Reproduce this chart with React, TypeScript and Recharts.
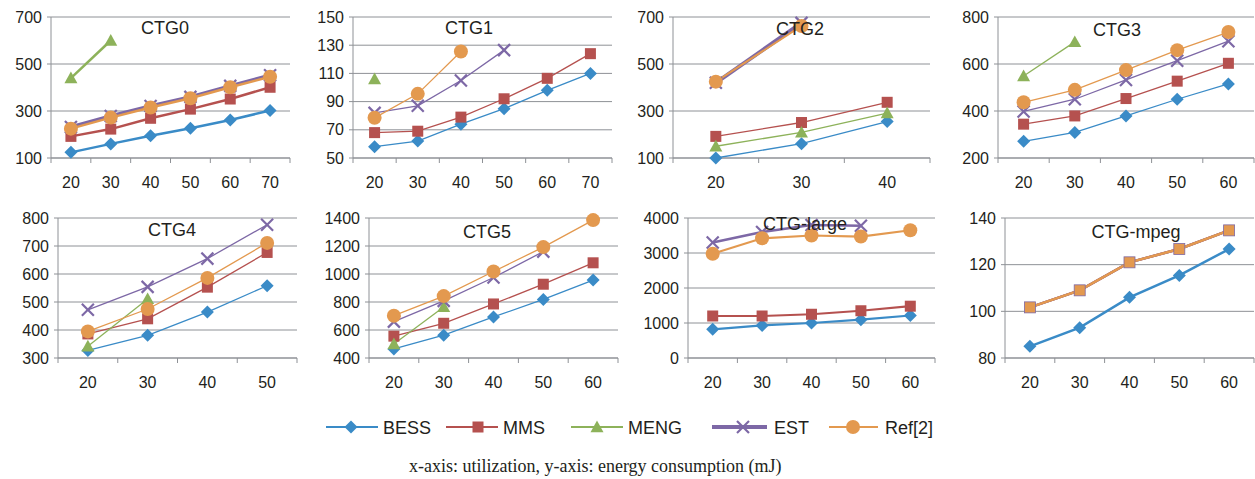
import React from 'react';
import { LineChart, Line, XAxis, YAxis, CartesianGrid } from 'recharts';

const SERIES_NAMES = ['BESS', 'MMS', 'MENG', 'EST', 'Ref[2]'];
const SERIES_KEYS = ['bess', 'mms', 'meng', 'est', 'ref'];
const COLORS = ['#3A8BC7', '#B5514F', '#8DB25A', '#7D68A6', '#E3994F'];
const SHAPES = ['diamond', 'square', 'triangle', 'cross', 'circle'];
const GRID = '#8E9196';
const TEXT = '#231F20';

// CTG0
const ctg0X = [20, 30, 40, 50, 60, 70];
const ctg0Bess = [124, 160, 195, 227, 262, 302];
const ctg0Mms = [192, 223, 269, 308, 351, 401];
const ctg0Meng = [440, 600, null, null, null, null];
const ctg0Est = [232, 279, 321, 360, 407, 452];
const ctg0Ref = [225, 272, 315, 354, 401, 446];
const ctg0Ticks = [100, 300, 500, 700];

// CTG1
const ctg1X = [20, 30, 40, 50, 60, 70];
const ctg1Bess = [58, 62, 74, 85, 98, 110];
const ctg1Mms = [68, 69, 79, 92, 106.5, 124];
const ctg1Meng = [106, null, null, null, null, null];
const ctg1Est = [82, 87, 105, 126.5, null, null];
const ctg1Ref = [78.5, 95.5, 125.5, null, null, null];
const ctg1Ticks = [50, 70, 90, 110, 130, 150];

// CTG2
const ctg2X = [20, 30, 40];
const ctg2Bess = [100, 161, 255];
const ctg2Mms = [192, 251, 337];
const ctg2Meng = [150, 209, 291];
const ctg2Est = [420, 675, null];
const ctg2Ref = [425, 662, null];
const ctg2Ticks = [100, 300, 500, 700];

// CTG3
const ctg3X = [20, 30, 40, 50, 60];
const ctg3Bess = [271, 309, 379, 450, 515];
const ctg3Mms = [344, 379, 453, 527, 603];
const ctg3Meng = [549, 694, null, null, null];
const ctg3Est = [398, 450, 532, 614, 697];
const ctg3Ref = [437, 490, 574, 659, 736];
const ctg3Ticks = [200, 400, 600, 800];

// CTG4
const ctg4X = [20, 30, 40, 50];
const ctg4Bess = [327, 381, 464, 558];
const ctg4Mms = [386, 440, 553, 677];
const ctg4Meng = [342, 511, null, null];
const ctg4Est = [472, 554, 655, 776];
const ctg4Ref = [395, 475, 586, 711];
const ctg4Ticks = [300, 400, 500, 600, 700, 800];

// CTG5
const ctg5X = [20, 30, 40, 50, 60];
const ctg5Bess = [465, 563, 693, 818, 957];
const ctg5Mms = [556, 648, 786, 927, 1080];
const ctg5Meng = [500, 765, null, null, null];
const ctg5Est = [660, 808, 975, 1160, null];
const ctg5Ref = [702, 842, 1018, 1192, 1385];
const ctg5Ticks = [400, 600, 800, 1000, 1200, 1400];

// CTG-large
const ctgLX = [20, 30, 40, 50, 60];
const ctgLBess = [820, 930, 1000, 1095, 1215];
const ctgLMms = [1200, 1200, 1250, 1350, 1480];
const ctgLMeng = [null, null, null, null, null];
const ctgLEst = [3300, 3600, 3800, 3780, null];
const ctgLRef = [2980, 3420, 3500, 3470, 3650];
const ctgLTicks = [0, 1000, 2000, 3000, 4000];

// CTG-mpeg
const ctgMX = [20, 30, 40, 50, 60];
const ctgMBess = [85, 93, 106, 115.4, 126.7];
const ctgMMms = [101.7, 109, 121, 126.7, 134.7];
const ctgMMeng = [null, null, null, null, null];
const ctgMEst = [101.7, 109, 121, 126.7, 134.7];
const ctgMRef = [101.7, 109, 121, 126.7, 134.7];
const ctgMTicks = [80, 100, 120, 140];

const buildRows = (x: number[], series: (number | null)[][]) =>
  x.map((v, i) => {
    const row: any = { x: v };
    SERIES_KEYS.forEach((k, s) => {
      row[k] = series[s][i];
    });
    return row;
  });

type Panel = {
  title: string;
  rows: any[];
  ticks: number[];
  box: { l: number; r: number; t: number; b: number };
  titlePos: [number, number];
  lw: number[];
  hideDots?: boolean[];
  refSquare?: boolean;
};

const THIN = [1.3, 1.3, 1.3, 1.3, 1.3];

const PANELS: Panel[] = [
  {
    title: 'CTG0',
    rows: buildRows(ctg0X, [ctg0Bess, ctg0Mms, ctg0Meng, ctg0Est, ctg0Ref]),
    ticks: ctg0Ticks,
    box: { l: 51, r: 290, t: 17, b: 158 },
    titlePos: [165, 28],
    lw: [2.5, 2.5, 2.5, 3.5, 2.5],
  },
  {
    title: 'CTG1',
    rows: buildRows(ctg1X, [ctg1Bess, ctg1Mms, ctg1Meng, ctg1Est, ctg1Ref]),
    ticks: ctg1Ticks,
    box: { l: 353, r: 612, t: 17, b: 158 },
    titlePos: [469, 28],
    lw: THIN,
  },
  {
    title: 'CTG2',
    rows: buildRows(ctg2X, [ctg2Bess, ctg2Mms, ctg2Meng, ctg2Est, ctg2Ref]),
    ticks: ctg2Ticks,
    box: { l: 673, r: 930, t: 17, b: 158 },
    titlePos: [800, 29],
    lw: [1.3, 1.3, 1.3, 4, 2],
  },
  {
    title: 'CTG3',
    rows: buildRows(ctg3X, [ctg3Bess, ctg3Mms, ctg3Meng, ctg3Est, ctg3Ref]),
    ticks: ctg3Ticks,
    box: { l: 998, r: 1254, t: 17, b: 158 },
    titlePos: [1117, 30],
    lw: THIN,
  },
  {
    title: 'CTG4',
    rows: buildRows(ctg4X, [ctg4Bess, ctg4Mms, ctg4Meng, ctg4Est, ctg4Ref]),
    ticks: ctg4Ticks,
    box: { l: 58, r: 297, t: 218, b: 358 },
    titlePos: [172, 230],
    lw: THIN,
  },
  {
    title: 'CTG5',
    rows: buildRows(ctg5X, [ctg5Bess, ctg5Mms, ctg5Meng, ctg5Est, ctg5Ref]),
    ticks: ctg5Ticks,
    box: { l: 369, r: 618, t: 218, b: 358 },
    titlePos: [487, 232],
    lw: THIN,
  },
  {
    title: 'CTG-large',
    rows: buildRows(ctgLX, [ctgLBess, ctgLMms, ctgLMeng, ctgLEst, ctgLRef]),
    ticks: ctgLTicks,
    box: { l: 688, r: 935, t: 218, b: 358 },
    titlePos: [805, 224],
    lw: [2.2, 2.2, 2.2, 2.6, 2.2],
  },
  {
    title: 'CTG-mpeg',
    rows: buildRows(ctgMX, [ctgMBess, ctgMMms, ctgMMeng, ctgMEst, ctgMRef]),
    ticks: ctgMTicks,
    box: { l: 1005, r: 1254, t: 218, b: 358 },
    titlePos: [1136, 232],
    lw: [2.5, 2.5, 2.5, 2.5, 2.5],
    hideDots: [false, true, true, true, false],
    refSquare: true,
  },
];

const Marker = ({ shape, cx, cy, color, stroke }: any) => {
  if (shape === 'diamond') {
    const r = 6.5;
    return <polygon points={`${cx},${cy - r} ${cx + r},${cy} ${cx},${cy + r} ${cx - r},${cy}`} fill={color} />;
  }
  if (shape === 'square') {
    const s = 5.5;
    return <rect x={cx - s} y={cy - s} width={2 * s} height={2 * s} fill={color} stroke={stroke || 'none'} strokeWidth={stroke ? 0.8 : 0} />;
  }
  if (shape === 'triangle') {
    const r = 6.5;
    return <polygon points={`${cx},${cy - r} ${cx + r},${cy + r * 0.8} ${cx - r},${cy + r * 0.8}`} fill={color} />;
  }
  if (shape === 'cross') {
    const r = 6;
    return (
      <g stroke={color} strokeWidth={2.2}>
        <line x1={cx - r} y1={cy - r} x2={cx + r} y2={cy + r} />
        <line x1={cx - r} y1={cy + r} x2={cx + r} y2={cy - r} />
      </g>
    );
  }
  return <circle cx={cx} cy={cy} r={7} fill={color} />;
};

const makeDot = (shape: string, color: string, hidden: boolean, stroke?: string) => (props: any) => {
  const { cx, cy, index } = props;
  const v = props.value;
  if (hidden || cx == null || cy == null || v == null || Number.isNaN(cy)) return <g key={`d${index}`} />;
  return (
    <g key={`d${index}`}>
      <Marker shape={shape} cx={cx} cy={cy} color={color} stroke={stroke} />
    </g>
  );
};

const YW = 50;
const MT = 10;
const MR = 1;
const XH = 40;

const XTick = ({ x, payload, index, bw, axisY, n }: any) => (
  <g>
    <line x1={x - bw / 2} x2={x - bw / 2} y1={axisY} y2={axisY + 5} stroke={GRID} strokeWidth={1} />
    {index === n - 1 && <line x1={x + bw / 2} x2={x + bw / 2} y1={axisY} y2={axisY + 5} stroke={GRID} strokeWidth={1} />}
    <text x={x} y={axisY + 29.5} textAnchor="middle" fill={TEXT} fontSize={16}>
      {payload.value}
    </text>
  </g>
);

const PanelChart = ({ p }: { p: Panel }) => {
  const W = p.box.r - p.box.l;
  const H = p.box.b - p.box.t;
  const n = p.rows.length;
  const bw = W / n;
  const axisY = MT + H;
  const ticks = p.ticks;
  return (
    <div style={{ position: 'absolute', left: p.box.l - YW, top: p.box.t - MT }}>
      <LineChart width={W + YW + MR} height={H + MT + XH} data={p.rows} margin={{ top: MT, right: MR, left: 0, bottom: 0 }}>
        <CartesianGrid vertical={false} stroke={GRID} strokeWidth={1} />
        <XAxis
          dataKey="x"
          type="category"
          interval={0}
          padding={{ left: bw / 2, right: bw / 2 }}
          height={XH}
          axisLine={{ stroke: GRID, strokeWidth: 1 }}
          tickLine={false}
          tick={(props: any) => <XTick {...props} bw={bw} axisY={axisY} n={n} />}
        />
        <YAxis
          width={YW}
          type="number"
          domain={[ticks[0], ticks[ticks.length - 1]]}
          ticks={ticks}
          interval={0}
          axisLine={{ stroke: GRID, strokeWidth: 1 }}
          tickLine={{ stroke: GRID, strokeWidth: 1 }}
          tickSize={4}
          tickMargin={5}
          tick={{ fill: TEXT, fontSize: 16 }}
        />
        {SERIES_KEYS.map((k, s) => (
          <Line
            key={k}
            dataKey={k}
            name={SERIES_NAMES[s]}
            stroke={COLORS[s]}
            strokeWidth={p.lw[s]}
            isAnimationActive={false}
            connectNulls={false}
            dot={
              p.refSquare && s === 4
                ? makeDot('square', COLORS[4], false, COLORS[3])
                : makeDot(SHAPES[s], COLORS[s], !!(p.hideDots && p.hideDots[s]))
            }
            activeDot={false}
          />
        ))}
      </LineChart>
    </div>
  );
};

const LEGEND_ITEMS = [
  { x1: 326, x2: 378, mx: 351, tx: 383 },
  { x1: 446, x2: 498, mx: 478, tx: 503 },
  { x1: 571, x2: 623, mx: 597, tx: 628 },
  { x1: 712, x2: 767, mx: 743, tx: 774 },
  { x1: 829, x2: 878, mx: 853, tx: 885 },
];
const LEGEND_LW = [1.8, 1.8, 1.8, 4, 1.8];

export default function App() {
  return (
    <div
      style={{
        position: 'fixed',
        left: 0,
        top: 0,
        width: 1255,
        height: 479,
        background: '#fff',
        overflow: 'hidden',
        fontFamily: '"Liberation Sans", Arial, Helvetica, sans-serif',
        color: TEXT,
      }}
    >
      {PANELS.map((p) => (
        <PanelChart key={p.title} p={p} />
      ))}
      {PANELS.map((p) => (
        <div
          key={`t-${p.title}`}
          style={{
            position: 'absolute',
            left: p.titlePos[0],
            top: p.titlePos[1],
            transform: 'translate(-50%, -50%)',
            fontSize: 18,
            whiteSpace: 'nowrap',
            lineHeight: '20px',
          }}
        >
          {p.title}
        </div>
      ))}
      <svg style={{ position: 'absolute', left: 0, top: 409 }} width={1255} height={40}>
        {SERIES_NAMES.map((name, s) => {
          const it = LEGEND_ITEMS[s];
          return (
            <g key={name}>
              <line x1={it.x1} x2={it.x2} y1={18} y2={18} stroke={COLORS[s]} strokeWidth={LEGEND_LW[s]} />
              <Marker shape={SHAPES[s]} cx={it.mx} cy={18} color={COLORS[s]} />
              <text x={it.tx} y={24.5} fontSize={18} fill={TEXT}>
                {name}
              </text>
            </g>
          );
        })}
      </svg>
      <div
        style={{
          position: 'absolute',
          left: 409,
          top: 455,
          fontFamily: '"Liberation Serif", "Times New Roman", serif',
          fontSize: 18,
          lineHeight: '22px',
          whiteSpace: 'nowrap',
        }}
      >
        x-axis: utilization, y-axis: energy consumption (mJ)
      </div>
    </div>
  );
}
